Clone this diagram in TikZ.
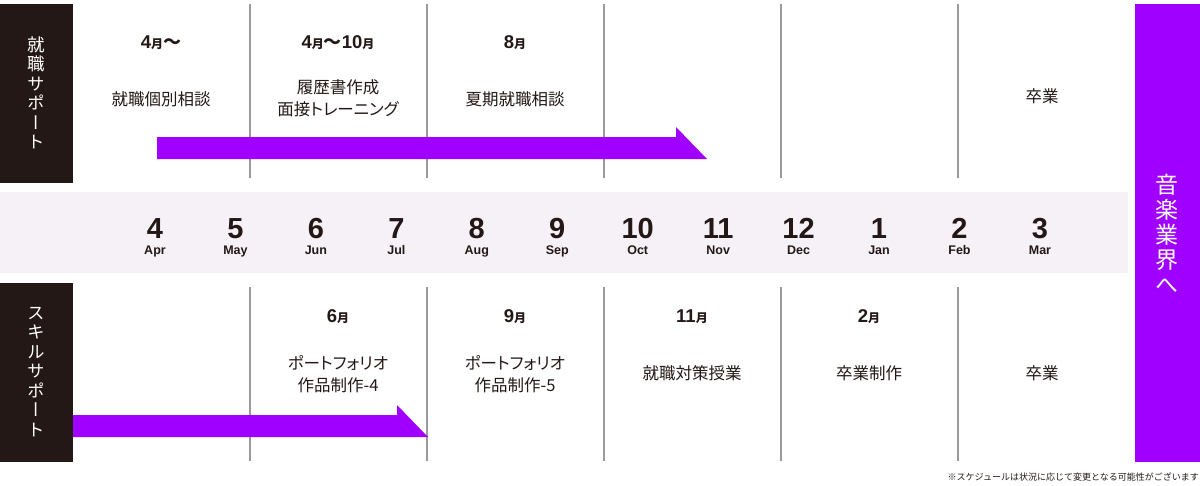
\documentclass[tikz,border=0pt]{standalone}
\usepackage{fontspec}
\setmainfont{Liberation Sans}
\newfontfamily\jp{Noto Sans CJK JP}
\newfontfamily\jpp{Noto Sans CJK JP}[RawFeature=+palt]
\newfontfamily\jpv{Noto Sans CJK JP}[RawFeature=+vert]

\definecolor{ink}{HTML}{231815}
\definecolor{vio}{HTML}{A000FF}
\definecolor{band}{HTML}{F6F1F7}
\definecolor{rule}{HTML}{9A9A9A}

\newcommand{\gatsu}{{\jp\bfseries\fontsize{12}{12}\selectfont 月}}
\newcommand{\kara}{{\jp\bfseries\fontsize{18}{18}\selectfont 〜}}

\tikzset{
  head/.style={text=ink,inner sep=0pt,font=\bfseries\fontsize{18.5}{18.5}\selectfont},
  desc/.style={text=ink,inner sep=0pt,align=center,font=\jpp\fontsize{16.5}{22}\selectfont},
  num/.style={text=ink,inner sep=0pt,anchor=base,font=\bfseries\fontsize{29}{29}\selectfont},
  abbr/.style={text=ink,inner sep=0pt,anchor=base,font=\bfseries\fontsize{12.5}{12.5}\selectfont},
  vlab/.style={text=white,inner sep=0pt,align=center,font=\jpv\fontsize{17.5}{19.5}\selectfont},
}

\begin{document}
\begin{tikzpicture}[x=1pt,y=-1pt]
   \useasboundingbox (0,0) rectangle (1200,485);

   % 背景
   \fill[band] (0,192) rectangle (1128,273);
   \fill[ink] (0,4) rectangle (73,183);
   \fill[ink] (0,283) rectangle (73,462);
   \fill[vio] (1135,4) rectangle (1200,462);

   % 区切り線
   \foreach \x in {250,427,604,781,958} {
     \draw[rule,line width=1.2pt] (\x,4) -- (\x,178);
     \draw[rule,line width=1.2pt] (\x,287) -- (\x,461);
   }

   % 矢印
   \fill[vio] (157,137) -- (676,137) -- (676,127) -- (707,159) -- (157,159) -- cycle;
   \fill[vio] (73,415) -- (397,415) -- (397,405) -- (428,437) -- (73,437) -- cycle;

   % 見出し
   \node[vlab] (job) at (36,93) {就\\職\\サ\\ポ\\ー\\ト};
   \node[vlab] (skill) at (36,372) {ス\\キ\\ル\\サ\\ポ\\ー\\ト};
   \node[vlab,font=\jpv\fontsize{23}{25}\selectfont] (goal) at (1167,234) {音\\楽\\業\\界\\へ};

   % 就職サポート
   \node[head] (t1) at (161,43) {4\gatsu\kara};
   \node[head] (t2) at (338,43) {4\gatsu\kara 10\gatsu};
   \node[head] (t3) at (515,43) {8\gatsu};
   \node[desc] (d1) at (161,99) {就職個別相談};
   \node[desc] (d2) at (338,98) {履歴書作成\\面接トレーニング};
   \node[desc] (d3) at (515,99) {夏期就職相談};
   \node[desc] (d6) at (1042,96) {卒業};

   % 月
   \foreach \n/\m [count=\i from 0] in {4/Apr,5/May,6/Jun,7/Jul,8/Aug,9/Sep,10/Oct,11/Nov,12/Dec,1/Jan,2/Feb,3/Mar} {
     \node[num] (n\i) at ({155+80.45*\i},238) {\n};
     \node[abbr] (a\i) at ({155+80.45*\i},254) {\m};
   }

   % スキルサポート
   \node[head] (b2) at (338,317) {6\gatsu};
   \node[head] (b3) at (515,317) {9\gatsu};
   \node[head] (b4) at (692,317) {11\gatsu};
   \node[head] (b5) at (869,317) {2\gatsu};
   \node[desc] (e2) at (338,374) {ポートフォリオ\\作品制作-4};
   \node[desc] (e3) at (515,374) {ポートフォリオ\\作品制作-5};
   \node[desc] (e4) at (692,373) {就職対策授業};
   \node[desc] (e5) at (869,373) {卒業制作};
   \node[desc] (e6) at (1042,373) {卒業};

   % 注記
   \node[text=ink,inner sep=0pt,anchor=east,font=\jp\fontsize{9}{9}\selectfont] (note) at (1199,477) {※スケジュールは状況に応じて変更となる可能性がございます};
\end{tikzpicture}
\end{document}
